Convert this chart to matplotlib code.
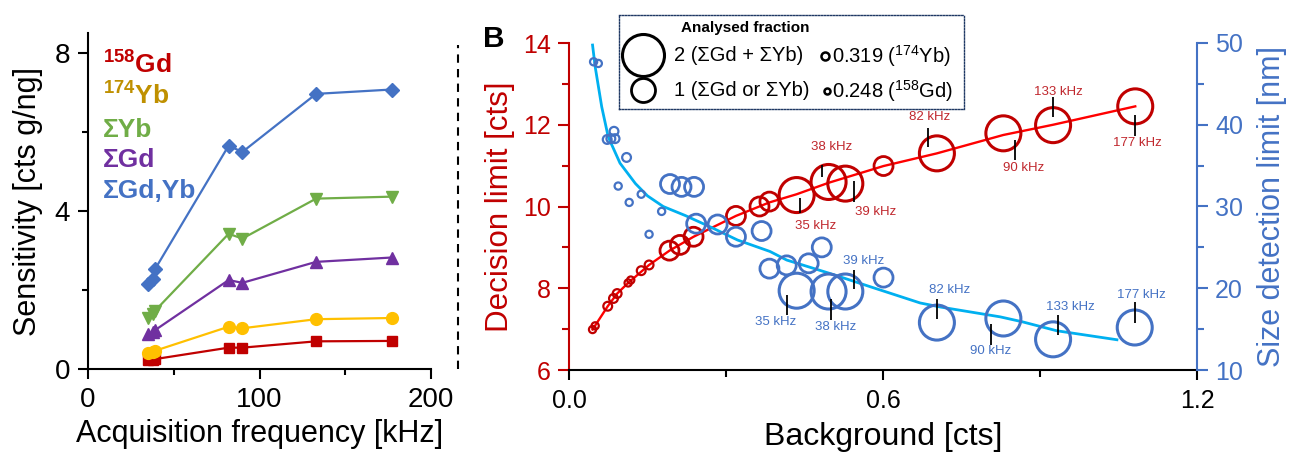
import matplotlib
matplotlib.use("Agg")
import matplotlib.pyplot as plt
from matplotlib.lines import Line2D
from matplotlib.transforms import ScaledTranslation

plt.rcParams.update({
    "font.family": ["Liberation Sans", "DejaVu Sans"],
    "mathtext.fontset": "custom", "mathtext.rm": "Liberation Sans",
    "mathtext.bf": "Liberation Sans:bold", "mathtext.it": "Liberation Sans:italic",
    "mathtext.sf": "Liberation Sans",
})

W, H = 1299, 461
RED, GOLD, YEL, GRN, PUR, BLU = "#c00000", "#bf9000", "#ffc000", "#70ad47", "#7030a0", "#4472c4"
CYAN, LRED = "#00b0f0", "#ff0000"

# ---- panel A data: sensitivity vs acquisition frequency
freq = [35, 38, 39, 82, 90, 133, 177]
sens_gd158 = [0.22, 0.24, 0.25, 0.54, 0.54, 0.70, 0.71]
sens_yb174 = [0.40, 0.44, 0.46, 1.07, 1.03, 1.26, 1.29]
sens_yb_sum = [1.28, 1.40, 1.47, 3.42, 3.30, 4.31, 4.36]
sens_gd_sum = [0.88, 0.93, 0.98, 2.25, 2.18, 2.71, 2.82]
sens_all = [2.16, 2.27, 2.52, 5.65, 5.49, 6.96, 7.07]

# ---- panel B data: decision limit / size detection limit vs background
red_bg = [0.045, 0.050, 0.074, 0.085, 0.092, 0.113, 0.118, 0.138, 0.153,
          0.192, 0.212, 0.238, 0.319, 0.364, 0.383, 0.601,
          0.435, 0.496, 0.528, 0.703, 0.830, 0.925, 1.082]
red_dl = [6.99, 7.08, 7.56, 7.75, 7.87, 8.13, 8.20, 8.43, 8.57,
          8.92, 9.06, 9.26, 9.77, 10.00, 10.12, 10.99,
          10.28, 10.60, 10.56, 11.30, 11.79, 11.99, 12.45]
red_frac = [0.248, 0.248, 0.319, 0.319, 0.319, 0.248, 0.248, 0.319, 0.319,
            1, 1, 1, 1, 1, 1, 1,
            2, 2, 2, 2, 2, 2, 2]
red_fit_bg = [0.045, 0.074, 0.092, 0.113, 0.153, 0.192, 0.238, 0.319, 0.383,
              0.435, 0.496, 0.601, 0.703, 0.830, 0.925, 1.082]
red_fit_dl = [6.99, 7.56, 7.87, 8.13, 8.57, 8.92, 9.26, 9.77, 10.10,
              10.30, 10.58, 10.99, 11.30, 11.75, 12.00, 12.45]

blue_bg = [0.047, 0.056, 0.073, 0.080, 0.086, 0.088, 0.094, 0.110, 0.115, 0.138, 0.153, 0.177,
           0.193, 0.215, 0.239, 0.243, 0.284, 0.319, 0.368, 0.383, 0.416, 0.458, 0.483, 0.601,
           0.435, 0.496, 0.528, 0.703, 0.830, 0.925, 1.081]
blue_sd = [47.7, 47.5, 38.2, 38.3, 39.2, 38.3, 32.5, 36.0, 30.5, 31.5, 26.6, 29.4,
           32.75, 32.4, 32.4, 27.9, 27.8, 26.3, 27.0, 22.4, 22.8, 23.05, 25.0, 21.3,
           19.7, 19.6, 19.6, 15.8, 16.3, 13.75, 15.2]
blue_frac = [0.248, 0.248, 0.319, 0.319, 0.319, 0.319, 0.248, 0.319, 0.248, 0.248, 0.248, 0.248,
             1, 1, 1, 1, 1, 1, 1, 1, 1, 1, 1, 1,
             2, 2, 2, 2, 2, 2, 2]
blue_fit_bg = [0.045, 0.050, 0.0625, 0.075, 0.0975, 0.127, 0.150, 0.180, 0.222, 0.270, 0.322,
               0.384, 0.416, 0.499, 0.575, 0.671, 0.710, 0.824, 0.866, 0.932, 1.047]
blue_fit_sd = [49.75, 47.1, 42.2, 38.5, 35.3, 32.8, 31.3, 30.0, 28.9, 27.5, 25.9,
               24.5, 23.45, 21.8, 20.2, 18.2, 17.7, 16.5, 15.9, 14.8, 13.7]

freq_labels = ["35 kHz", "38 kHz", "39 kHz", "82 kHz", "90 kHz", "133 kHz", "177 kHz"]
red_big = [(0.435, 10.28), (0.496, 10.60), (0.528, 10.56), (0.703, 11.30),
           (0.830, 11.79), (0.925, 11.99), (1.082, 12.45)]
blue_big = [(0.435, 19.7), (0.496, 19.6), (0.528, 19.6), (0.703, 15.8),
            (0.830, 16.3), (0.925, 13.75), (1.081, 15.2)]
# label placement in pixels: tick dx, tick dy1, tick dy2, text dx, text dy (image y down)
red_lab_pos = [(3, 2, 17, 19, 31), (-7, -17, -5, 3, -35), (9, -3, 18, 30, 28),
               (-9, -26, -7, -7, -36), (12, 7, 27, 20, 35), (0, -28, -8, 5, -33),
               (0, 8, 29, 2, 37)]
blue_lab_pos = [(-10, 4, 24, -21, 31), (2, 7, 28, 7, 35), (9, -22, -3, 18, -31),
                (0, -24, -4, 13, -33), (-12, 5, 26, -13, 33), (5, -24, -4, 17, -32),
                (0, -26, -5, 7, -32)]

RADIUS = {2: 17.5, 1: 9.5, 0.319: 4.4, 0.248: 3.6}
EDGE_LW = {2: 2.2, 1: 2.0, 0.319: 1.6, 0.248: 1.6}


def fx(x):
    return x / W


def fy(y):
    return 1 - y / H


fig = plt.figure(figsize=(W / 100, H / 100), dpi=100)

# ---------------- panel A ----------------
axA = fig.add_axes([fx(88), fy(369), (431 - 88) / W, (369 - 33) / H])
series = [
    (sens_gd158, RED, "s", 7.5),
    (sens_yb174, YEL, "o", 8.5),
    (sens_gd_sum, PUR, "^", 9),
    (sens_yb_sum, GRN, "v", 9),
    (sens_all, BLU, "D", 7.5),
]
for vals, col, mk, ms in series:
    axA.plot(freq, vals, color=col, lw=1.6, marker=mk, ms=ms, mec=col, mfc=col, clip_on=False)
axA.set_xlim(0, 200)
axA.set_ylim(0, 8.5)
axA.set_xticks([0, 100, 200])
axA.set_xticks([50, 150], minor=True)
axA.set_yticks([0, 4, 8])
axA.set_yticks([2, 6], minor=True)
axA.tick_params(which="major", direction="out", length=7, width=1.5, labelsize=20, pad=6)
axA.tick_params(which="minor", direction="out", length=4, width=1.5)
for s in ("top", "right"):
    axA.spines[s].set_visible(False)
for s in ("left", "bottom"):
    axA.spines[s].set_linewidth(1.5)
axA.set_xlabel("Acquisition frequency [kHz]", fontsize=22, labelpad=4)
axA.set_ylabel("Sensitivity [cts g/ng]", fontsize=22, labelpad=8)

legA = [(r"$^{\mathbf{158}}$Gd", RED, 74), (r"$^{\mathbf{174}}$Yb", GOLD, 105),
        ("ΣYb", GRN, 136.5), ("ΣGd", PUR, 166.5), ("ΣGd,Yb", BLU, 197.5)]
for txt, col, yb in legA:
    fig.text(fx(103), fy(yb), txt, color=col, fontsize=19, fontweight="bold",
             ha="left", va="baseline")

fig.add_artist(Line2D([fx(458), fx(458)], [fy(369), fy(45)], color="black", lw=1.5,
                      linestyle=(0, (4, 3)), transform=fig.transFigure))

# ---------------- panel B ----------------
axB = fig.add_axes([fx(569), fy(370), (1197 - 569) / W, (370 - 43) / H])
ax2 = axB.twinx()

axB.plot(red_fit_bg, red_fit_dl, color=LRED, lw=1.7, zorder=1)
axB.scatter(red_bg, red_dl, s=[(2 * RADIUS[f] * 0.72) ** 2 for f in red_frac],
            facecolors="none", edgecolors=RED, linewidths=[EDGE_LW[f] for f in red_frac], zorder=2)
ax2.plot(blue_fit_bg, blue_fit_sd, color=CYAN, lw=2.0, zorder=1)
ax2.scatter(blue_bg, blue_sd, s=[(2 * RADIUS[f] * 0.72) ** 2 for f in blue_frac],
            facecolors="none", edgecolors=BLU, linewidths=[EDGE_LW[f] for f in blue_frac], zorder=2)

axB.set_xlim(0, 1.2)
axB.set_ylim(6, 14)
ax2.set_ylim(10, 50)
axB.set_xticks([0, 0.6, 1.2])
axB.set_xticklabels(["0.0", "0.6", "1.2"])
axB.set_xticks([0.3, 0.9], minor=True)
axB.set_yticks([6, 8, 10, 12, 14])
axB.set_yticks([7, 9, 11, 13], minor=True)
ax2.set_yticks([10, 20, 30, 40, 50])
ax2.set_yticks([15, 25, 35, 45], minor=True)

for s in ("top", "right"):
    axB.spines[s].set_visible(False)
for s in ("top", "left", "bottom"):
    ax2.spines[s].set_visible(False)
axB.spines["left"].set_color(RED)
axB.spines["left"].set_linewidth(1.5)
axB.spines["bottom"].set_linewidth(1.5)
ax2.spines["right"].set_color(BLU)
ax2.spines["right"].set_linewidth(1.5)

axB.tick_params(axis="x", which="major", direction="out", length=7, width=1.5, labelsize=18, pad=7)
axB.tick_params(axis="x", which="minor", direction="out", length=5, width=1.5)
axB.tick_params(axis="y", which="major", direction="out", length=8, width=1.5, labelsize=18,
                color=RED, labelcolor=RED, pad=5)
axB.tick_params(axis="y", which="minor", direction="out", length=5, width=1.5, color=RED)
ax2.tick_params(axis="y", which="major", direction="out", length=8, width=1.5, labelsize=18,
                color=BLU, labelcolor=BLU, pad=5)
ax2.tick_params(axis="y", which="minor", direction="out", length=5, width=1.5, color=BLU)

axB.set_xlabel("Background [cts]", fontsize=23, labelpad=6)
axB.set_ylabel("Decision limit [cts]", fontsize=22.5, color=RED, labelpad=6)
ax2.set_ylabel("Size detection limit [nm]", fontsize=22, color=BLU, labelpad=10)

fig.text(fx(483), fy(39), "B", fontsize=21.5, fontweight="bold", ha="left", va="center")


def label_points(ax, pts, pos, col):
    for (x, y), lab, (tdx, d1, d2, xdx, xdy) in zip(pts, freq_labels, pos):
        tr = ax.transData + ScaledTranslation(tdx / 100, -(d1 + d2) / 200, fig.dpi_scale_trans)
        ax.plot([x], [y], marker="|", ms=(d2 - d1) * 0.72, mew=1.3, color="black",
                transform=tr, zorder=4)
        ax.annotate(lab, (x, y), xytext=(xdx, -xdy), textcoords="offset pixels",
                    ha="center", va="center", fontsize=9.5, color=col, zorder=4)


label_points(axB, red_big, red_lab_pos, "#c0272d")
label_points(ax2, blue_big, blue_lab_pos, BLU)

# ---- size legend box
leg = fig.add_axes([fx(619), fy(109), (964 - 619) / W, (109 - 15) / H])
leg.set_xlim(0, 345)
leg.set_ylim(94, 0)
leg.set_xticks([])
leg.set_yticks([])
leg.patch.set_alpha(0)
for s in leg.spines.values():
    s.set_linestyle((0, (1, 1.2)))
    s.set_color("#1f3864")
    s.set_linewidth(1.0)
leg.text(126, 13, "Analysed fraction", fontsize=11, fontweight="bold", ha="center", va="center")
leg_items = [(24, 40, 21, 2.2, "2 (ΣGd + ΣYb)", 55), (24, 75, 12, 2.0, "1 (ΣGd or ΣYb)", 55),
             (206, 41, 4, 1.8, r"0.319 ($^{174}$Yb)", 213), (208, 76, 3, 1.8, r"0.248 ($^{158}$Gd)", 213)]
for cx, cy, r, lw, txt, tx in leg_items:
    leg.plot([cx], [cy], marker="o", ms=2 * r * 0.72, mfc="white", mec="black", mew=lw)
    leg.text(tx, cy, txt, fontsize=14.5, ha="left", va="center")

fig.savefig("out.png", dpi=100)
